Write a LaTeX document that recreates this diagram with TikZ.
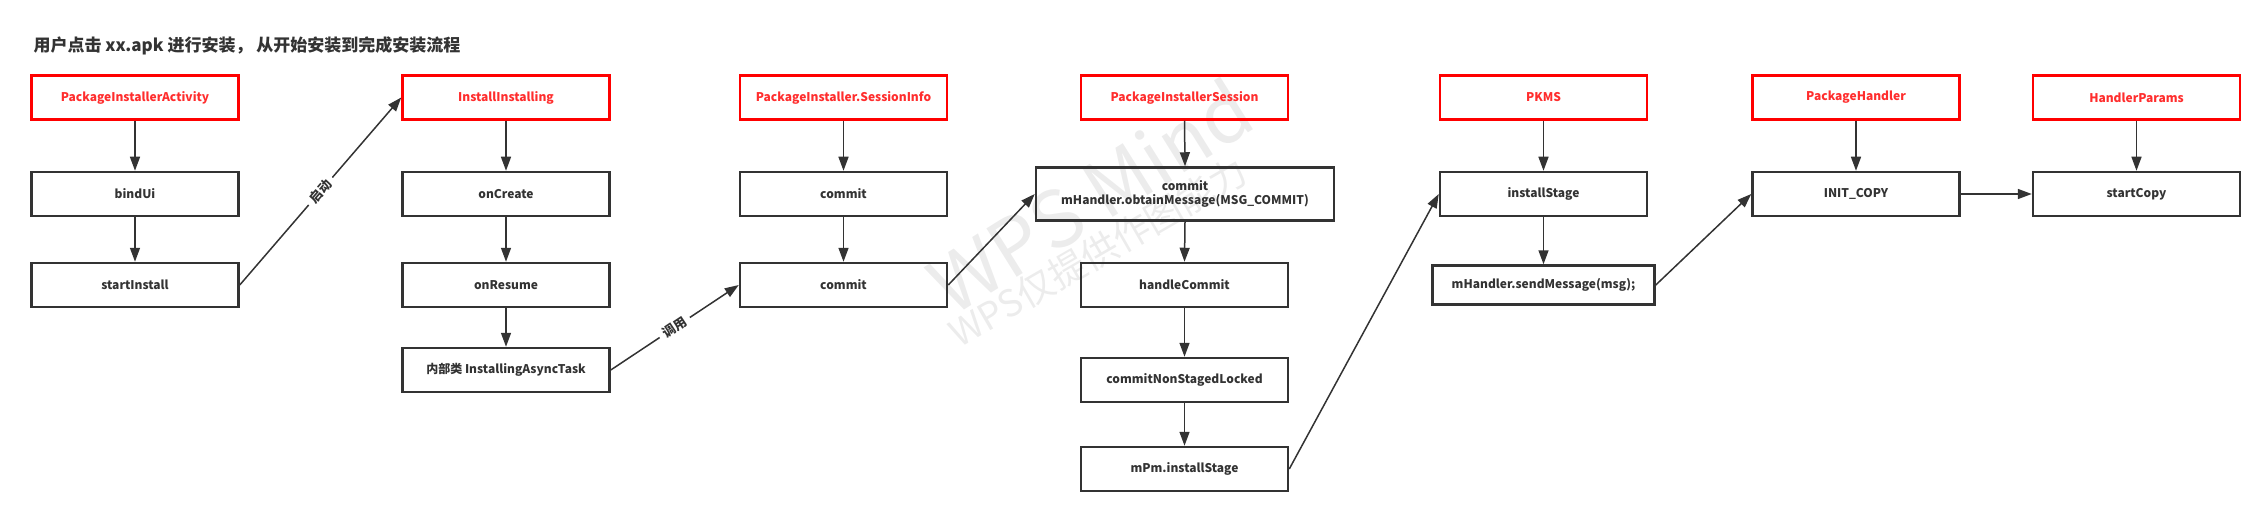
\documentclass[tikz,border=0pt]{standalone}
\usepackage{fontspec}
\setmainfont{Noto Sans CJK SC}
\usetikzlibrary{positioning,arrows.meta}
\definecolor{linegray}{RGB}{51,51,51}
\definecolor{headred}{RGB}{255,0,0}
\definecolor{headtext}{RGB}{255,45,45}
\definecolor{markgray}{RGB}{236,236,236}

\begin{document}
\begin{tikzpicture}[x=1pt,y=-1pt,
    stepbox/.style={draw=linegray,line width=2.5pt,minimum width=207pt,minimum height=44pt,inner sep=0pt,font=\bfseries\fontsize{12}{14}\selectfont,text=linegray},
    headbox/.style={stepbox,draw=headred,text=headtext},
    flow/.style={draw=linegray,line width=1.5pt,-{Triangle[length=14pt,width=10pt]}},
    calltag/.style={sloped,fill=white,inner sep=5pt,font=\bfseries\fontsize{13}{15}\selectfont,text=linegray}]
    \useasboundingbox (0,0) rectangle (2265,516);

    % Watermark
    \node[rotate=32,text=markgray,font=\fontsize{78}{80}\selectfont] (markA) at (1090,196) {WPS Mind};
    \node[rotate=30,text=markgray,font=\fontsize{37}{40}\selectfont] (markB) at (1098,252) {WPS仅提供作图能力};

    % Title
    \node[anchor=west,text=linegray,font=\bfseries\fontsize{17}{20}\selectfont] (title) at (30,46) {用户点击 xx.apk 进行安装， 从开始安装到完成安装流程};

    % Column 1
    \node[headbox] (activity) at (135,97.5) {PackageInstallerActivity};
    \node[stepbox] (bindui) at (135,194) {bindUi};
    \node[stepbox] (startinstall) at (135,285) {startInstall};

    % Column 2
    \node[headbox] (installing) at (506,97.5) {InstallInstalling};
    \node[stepbox] (oncreate) at (506,194) {onCreate};
    \node[stepbox] (onresume) at (506,285) {onResume};
    \node[stepbox] (asynctask) at (506,370) {内部类 InstallingAsyncTask};

    % Column 3
    \node[headbox] (sessioninfo) at (843.5,97.5) {PackageInstaller.SessionInfo};
    \node[stepbox] (commitA) at (843.5,194) {commit};
    \node[stepbox] (commitB) at (843.5,285) {commit};

    % Column 4
    \node[headbox] (session) at (1184.5,97.5) {PackageInstallerSession};
    \node[stepbox,minimum width=298pt,minimum height=53pt,align=center] (obtain) at (1185,194) {commit\\mHandler.obtainMessage(MSG\_COMMIT)};
    \node[stepbox] (handlecommit) at (1184.5,285) {handleCommit};
    \node[stepbox] (nonstaged) at (1184.5,380) {commitNonStagedLocked};
    \node[stepbox] (mpm) at (1184.5,469) {mPm.installStage};

    % Column 5
    \node[headbox] (pkms) at (1543.5,97.5) {PKMS};
    \node[stepbox] (installstage) at (1543.5,194) {installStage};
    \node[stepbox,minimum width=222pt,minimum height=39pt] (sendmsg) at (1543.5,285) {mHandler.sendMessage(msg);};

    % Column 6 and 7
    \node[headbox] (handler) at (1856,97.5) {PackageHandler};
    \node[stepbox] (initcopy) at (1856,194) {INIT\_COPY};
    \node[headbox] (params) at (2136.5,97.5) {HandlerParams};
    \node[stepbox] (startcopy) at (2136.5,194) {startCopy};

    % Arrows down each column
    \foreach \a/\b in {activity/bindui,bindui/startinstall,installing/oncreate,oncreate/onresume,onresume/asynctask,sessioninfo/commitA,commitA/commitB,session/obtain,obtain/handlecommit,handlecommit/nonstaged,nonstaged/mpm,pkms/installstage,installstage/sendmsg,handler/initcopy,params/startcopy}
        \draw[flow] (\a.south) -- (\b.north);

    % Arrows between columns
    \draw[flow] (startinstall.east) -- node[calltag] {启动} (installing.west);
    \draw[flow] (asynctask.east) -- node[calltag] {调用} (commitB.west);
    \draw[flow] (commitB.east) -- (obtain.west);
    \draw[flow] (mpm.east) -- (installstage.west);
    \draw[flow] (sendmsg.east) -- (initcopy.west);
    \draw[flow] (initcopy.east) -- (startcopy.west);
\end{tikzpicture}
\end{document}
